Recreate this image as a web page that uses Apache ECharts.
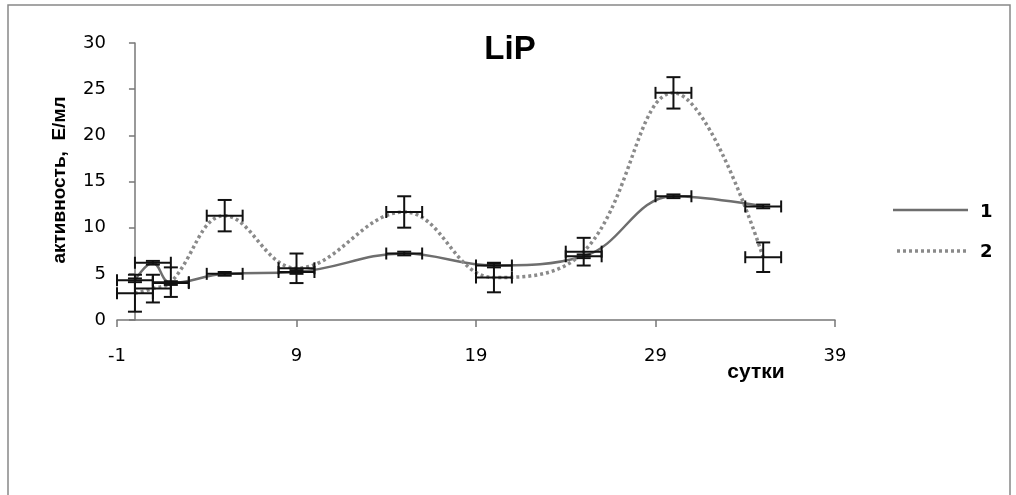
<!DOCTYPE html>
<html>
<head>
<meta charset="utf-8">
<script src="https://cdn.jsdelivr.net/npm/echarts@6/dist/echarts.min.js"></script>
<style>
html,body{margin:0;padding:0;background:#fff;}
#chart{width:1016px;height:495px;}
</style>
</head>
<body>
<div id="chart"></div>
<script>
// ---- data ----
const title = 'LiP';
const yAxisName = 'активность,  Е/мл';
const xAxisName = 'сутки';
const seriesNames = ['1', '2'];

const days1 = [0, 1, 2, 5, 9, 15, 20, 25, 30, 35];
const vals1 = [4.3, 6.2, 4.0, 5.0, 5.2, 7.2, 5.9, 6.9, 13.4, 12.3];
const xErr1 = [1, 1, 1, 1, 1, 1, 1, 1, 1, 1];
const yErr1 = [0.2, 0.2, 0.2, 0.2, 0.2, 0.2, 0.2, 0.2, 0.2, 0.2];

const days2 = [0, 1, 2, 5, 9, 15, 20, 25, 30, 35];
const vals2 = [2.9, 3.4, 4.1, 11.3, 5.6, 11.7, 4.6, 7.4, 24.6, 6.8];
const xErr2 = [1, 1, 1, 1, 1, 1, 1, 1, 1, 1];
const yErr2 = [2.0, 1.5, 1.6, 1.7, 1.6, 1.7, 1.6, 1.5, 1.7, 1.6];

const xTicks = { min: -1, max: 39, interval: 10 };
const yTicks = { min: 0, max: 30, interval: 5 };

// ---- styles ----
const line1Style = { color: '#6e6e6e', width: 2.5 };
const line2Style = { color: '#8a8a8a', width: 3.5, type: [3, 3] };

// ---- build ----
function pts(xs, ys) { return xs.map((x, i) => [x, ys[i]]); }
function errData(xs, ys, xe, ye) { return xs.map((x, i) => [x, ys[i], xe[i], ye[i]]); }

function renderErr(params, api) {
  const x = api.value(0), y = api.value(1), xe = api.value(2), ye = api.value(3);
  const c = api.coord([x, y]);
  const l = api.coord([x - xe, y]);
  const r = api.coord([x + xe, y]);
  const t = api.coord([x, y + ye]);
  const b = api.coord([x, y - ye]);
  const st = { stroke: '#111', lineWidth: 2 };
  const capW = 7, capH = 6;
  const lines = [
    [l[0], c[1], r[0], c[1]],
    [l[0], c[1] - capH, l[0], c[1] + capH],
    [r[0], c[1] - capH, r[0], c[1] + capH],
    [c[0], t[1], c[0], b[1]],
    [c[0] - capW, t[1], c[0] + capW, t[1]],
    [c[0] - capW, b[1], c[0] + capW, b[1]]
  ];
  return {
    type: 'group',
    children: lines.map(p => ({
      type: 'line',
      shape: { x1: p[0], y1: p[1], x2: p[2], y2: p[3] },
      style: st
    }))
  };
}

const chart = echarts.init(document.getElementById('chart'), null, { renderer: 'canvas' });
const labelFont = 'DejaVu Sans';
chart.setOption({
  animation: false,
  backgroundColor: '#fff',
  title: {
    text: title, left: 505, top: 28, textAlign: 'center',
    textStyle: { fontFamily: 'Liberation Sans', fontWeight: 'bold', fontSize: 33, color: '#000' }
  },
  grid: { left: 117, right: 181, top: 43, bottom: 175, containLabel: false },
  xAxis: {
    type: 'value', min: xTicks.min, max: xTicks.max, interval: xTicks.interval,
    splitLine: { show: false },
    axisLine: { lineStyle: { color: '#777', width: 1.5 } },
    axisTick: { show: true, length: 7, lineStyle: { color: '#777', width: 1.5 } },
    axisLabel: { margin: 27, fontFamily: labelFont, fontSize: 18, color: '#000' }
  },
  yAxis: {
    type: 'value', min: yTicks.min, max: yTicks.max, interval: yTicks.interval,
    splitLine: { show: false },
    axisLine: { onZero: true, lineStyle: { color: '#777', width: 1.5 } },
    axisTick: { show: true, length: 6, lineStyle: { color: '#777', width: 1.5 } },
    axisLabel: { margin: 11, fontFamily: labelFont, fontSize: 18, color: '#000' }
  },
  graphic: [
    { type: 'rect', shape: { x: 8, y: 5, width: 1002, height: 500 }, style: { fill: 'none', stroke: '#888', lineWidth: 1.5 }, silent: true },
    { type: 'text', x: 60, y: 180, rotation: Math.PI / 2, style: { text: yAxisName, font: 'bold 19px "Liberation Sans Narrow", "Liberation Sans"', fill: '#000', align: 'center', verticalAlign: 'middle' } },
    { type: 'text', x: 756, y: 372, style: { text: xAxisName, font: 'bold 21px "Liberation Sans"', fill: '#000', align: 'center', verticalAlign: 'middle' } },
    // legend
    { type: 'line', shape: { x1: 893, y1: 210, x2: 968, y2: 210 }, style: { stroke: line1Style.color, lineWidth: line1Style.width } },
    { type: 'text', x: 980, y: 212, style: { text: seriesNames[0], font: 'bold 18px "DejaVu Sans"', fill: '#000', align: 'left', verticalAlign: 'middle' } },
    { type: 'line', shape: { x1: 897, y1: 251, x2: 968, y2: 251 }, style: { stroke: line2Style.color, lineWidth: line2Style.width, lineDash: line2Style.type } },
    { type: 'text', x: 980, y: 252, style: { text: seriesNames[1], font: 'bold 18px "DejaVu Sans"', fill: '#000', align: 'left', verticalAlign: 'middle' } }
  ],
  series: [
    {
      name: seriesNames[0], type: 'line', data: pts(days1, vals1), smooth: 0.4,
      symbol: 'none', lineStyle: line1Style, itemStyle: { color: line1Style.color }, z: 3
    },
    {
      name: seriesNames[1], type: 'line', data: pts(days2, vals2), smooth: 0.4,
      symbol: 'none', lineStyle: line2Style, itemStyle: { color: line2Style.color }, z: 3
    },
    { type: 'custom', data: errData(days1, vals1, xErr1, yErr1), renderItem: renderErr, z: 4, silent: true },
    { type: 'custom', data: errData(days2, vals2, xErr2, yErr2), renderItem: renderErr, z: 4, silent: true }
  ]
});
</script>
</body>
</html>
